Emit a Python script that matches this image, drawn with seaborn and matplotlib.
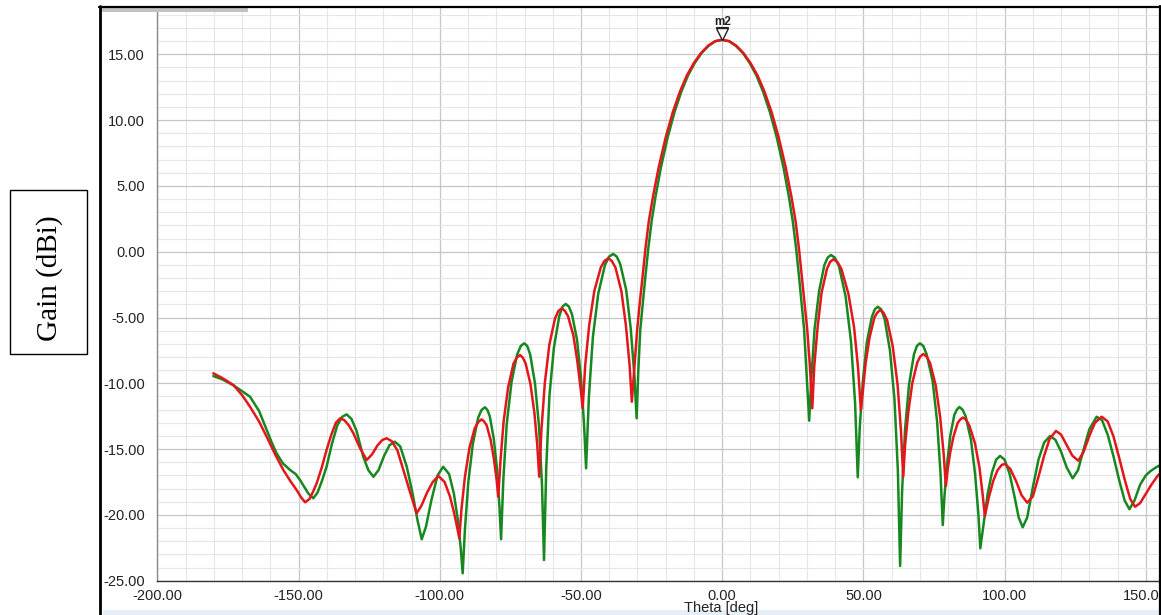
import matplotlib
matplotlib.use("Agg")
import matplotlib.pyplot as plt
import numpy as np
import pandas as pd
import seaborn as sns
from matplotlib.ticker import MultipleLocator, FuncFormatter
from matplotlib.patches import Rectangle
from matplotlib.lines import Line2D
from matplotlib.transforms import offset_copy

# ---- radiation pattern samples: (theta [deg], gain [dBi]) ----
red_pattern = [
    (-180.2, -9.24), (-177.0, -9.6), (-173.1, -10.13), (-170.0, -10.9), (-167.2, -11.78),
    (-164.0, -12.9), (-161.3, -14.06), (-158.3, -15.4), (-155.4, -16.59), (-153.0, -17.4),
    (-150.7, -18.11), (-149.0, -18.7), (-147.7, -19.04), (-146.2, -18.8), (-144.8, -18.2),
    (-143.6, -17.6), (-141.8, -16.4), (-140.1, -15.07), (-138.4, -13.9), (-136.8, -13.0),
    (-135.3, -12.66), (-133.8, -12.8), (-132.2, -13.2), (-130.6, -13.8), (-128.3, -14.9),
    (-125.9, -15.83), (-124.0, -15.4), (-122.0, -14.7), (-120.3, -14.3), (-118.8, -14.18),
    (-117.0, -14.4), (-115.0, -15.1), (-112.9, -16.59), (-110.5, -18.3), (-108.2, -19.88),
    (-106.5, -19.3), (-104.5, -18.3), (-102.5, -17.5), (-100.5, -17.04), (-98.3, -17.5),
    (-96.4, -18.6), (-95.0, -19.8), (-93.8, -21.0), (-93.1, -21.78), (-92.3, -19.5),
    (-91.1, -17.1), (-89.5, -14.9), (-87.6, -13.4), (-86.4, -12.95), (-85.2, -12.74),
    (-84.3, -12.9), (-83.4, -13.2), (-82.0, -14.3), (-80.8, -15.8), (-79.9, -17.3),
    (-79.3, -18.62), (-78.5, -15.85), (-77.4, -12.9), (-75.8, -10.3), (-73.9, -8.5),
    (-72.75, -8.05), (-71.6, -7.85), (-70.6, -8.05), (-69.6, -8.5), (-67.9, -10.05),
    (-66.5, -12.25), (-65.5, -14.65), (-64.8, -17.1), (-64.0, -13.5), (-62.8, -9.96),
    (-61.2, -7.06), (-59.2, -5.07), (-58.0, -4.5), (-56.8, -4.3), (-55.7, -4.5),
    (-54.6, -4.9), (-52.7, -6.36), (-51.3, -8.33), (-50.1, -10.46), (-49.4, -11.9),
    (-48.5, -8.6), (-47.1, -5.6), (-45.3, -3.0), (-43.0, -1.2), (-41.7, -0.7),
    (-40.3, -0.5), (-39.1, -0.7), (-37.8, -1.2), (-35.7, -3.0), (-34.1, -5.6),
    (-32.8, -8.6), (-32.0, -11.4), (-31.0, -8.5), (-30.1, -5.9), (-29.2, -3.9),
    (-28.3, -2.1), (-27.2, 0.2), (-26.0, 2.3), (-24.5, 4.2), (-22.5, 6.4),
    (-20.0, 8.7), (-17.5, 10.6), (-15.0, 12.15), (-12.5, 13.4), (-10.0, 14.35),
    (-7.5, 15.1), (-5.0, 15.65), (-2.5, 16.0), (0.0, 16.1), (2.5, 16.0),
    (5.0, 15.65), (7.5, 15.1), (10.0, 14.35), (12.5, 13.4), (15.0, 12.15),
    (17.5, 10.6), (20.0, 8.7), (22.5, 6.4), (24.5, 4.2), (26.0, 2.3),
    (27.2, 0.2), (28.3, -2.1), (29.2, -3.9), (30.1, -5.9), (31.0, -8.5),
    (31.9, -11.9), (32.6, -8.7), (33.8, -5.7), (35.2, -3.1), (37.1, -1.3),
    (38.2, -0.78), (39.3, -0.58), (40.8, -0.78), (42.2, -1.3), (44.7, -3.2),
    (46.7, -5.75), (48.1, -8.8), (49.1, -12.03), (49.8, -10.6), (50.8, -8.45),
    (52.2, -6.5), (53.9, -5.0), (54.9, -4.63), (55.9, -4.43), (57.1, -4.63),
    (58.4, -5.2), (60.4, -7.2), (62.1, -10.1), (63.3, -13.6), (64.1, -17.1),
    (64.8, -14.6), (65.9, -12.2), (67.3, -10.0), (69.1, -8.4), (70.1, -7.97),
    (71.2, -7.77), (72.4, -7.97), (73.6, -8.45), (75.6, -10.15), (77.2, -12.6),
    (78.4, -15.3), (79.2, -17.8), (79.8, -16.6), (80.7, -15.3), (81.9, -14.05),
    (83.4, -13.0), (84.3, -12.75), (85.2, -12.6), (86.3, -12.75), (87.5, -13.2),
    (89.5, -14.55), (91.1, -16.4), (92.2, -18.4), (93.0, -20.08), (94.5, -18.6),
    (96.0, -17.4), (97.5, -16.6), (99.0, -16.2), (100.1, -16.13), (102.0, -16.5),
    (104.0, -17.4), (106.0, -18.5), (108.0, -19.07), (110.0, -18.6), (112.0, -17.1),
    (114.0, -15.5), (116.0, -14.2), (118.2, -13.62), (120.0, -13.9), (122.0, -14.7),
    (124.0, -15.5), (126.1, -15.88), (128.0, -15.2), (130.0, -14.0), (132.0, -13.0),
    (134.4, -12.54), (136.5, -12.9), (138.5, -14.0), (140.5, -15.6), (142.5, -17.3),
    (144.5, -18.8), (146.2, -19.38), (148.0, -19.1), (150.0, -18.4), (152.0, -17.7),
    (154.3, -17.0), (157.0, -16.5),
]

green_pattern = [
    (-180.2, -9.45), (-177.0, -9.7), (-173.1, -10.15), (-170.0, -10.6), (-167.2, -11.02),
    (-164.0, -12.1), (-161.3, -13.55), (-159.5, -14.5), (-157.8, -15.32), (-155.5, -16.1),
    (-153.0, -16.59), (-151.0, -16.9), (-149.5, -17.35), (-146.6, -18.36), (-144.8, -18.74),
    (-143.3, -18.3), (-141.7, -17.4), (-140.1, -16.34), (-138.2, -14.6), (-136.3, -13.2),
    (-134.6, -12.55), (-133.0, -12.36), (-131.3, -12.7), (-129.5, -13.6), (-127.1, -15.58),
    (-125.3, -16.6), (-123.5, -17.1), (-121.7, -16.6), (-119.7, -15.5), (-117.8, -14.7),
    (-115.9, -14.44), (-114.0, -14.8), (-111.7, -16.34), (-109.7, -18.3), (-107.9, -20.4),
    (-106.4, -21.85), (-104.9, -20.9), (-103.0, -18.9), (-100.8, -17.0), (-98.8, -16.34),
    (-96.7, -16.9), (-95.0, -18.4), (-93.6, -20.4), (-92.6, -22.5), (-91.9, -24.44),
    (-91.1, -21.1), (-89.9, -17.5), (-88.3, -14.6), (-86.4, -12.6), (-85.2, -12.02),
    (-84.0, -11.82), (-83.15, -12.02), (-82.3, -12.5), (-80.9, -14.2), (-79.7, -16.6),
    (-78.9, -19.3), (-78.3, -21.85), (-77.5, -17.3), (-76.3, -13.1), (-74.6, -9.9),
    (-72.6, -7.8), (-71.3, -7.16), (-70.1, -6.96), (-69.05, -7.16), (-68.0, -7.8),
    (-66.3, -10.0), (-64.85, -13.3), (-63.8, -17.8), (-63.1, -23.43), (-62.3, -16.4),
    (-61.2, -11.0), (-59.6, -7.3), (-57.7, -4.9), (-56.55, -4.17), (-55.4, -3.97),
    (-54.3, -4.17), (-53.2, -4.75), (-51.4, -6.7), (-50.0, -9.6), (-48.9, -13.2),
    (-48.2, -16.46), (-47.2, -11.0), (-45.8, -6.5), (-43.9, -3.2), (-41.5, -1.0),
    (-40.05, -0.37), (-38.6, -0.17), (-37.35, -0.37), (-36.1, -0.95), (-34.0, -2.9),
    (-32.4, -5.8), (-31.1, -9.4), (-30.3, -12.66), (-29.7, -9.0), (-29.0, -5.9),
    (-28.1, -3.9), (-27.3, -2.1), (-26.2, 0.2), (-25.0, 2.3), (-23.6, 4.2),
    (-21.7, 6.4), (-19.3, 8.7), (-16.9, 10.6), (-14.5, 12.15), (-12.1, 13.4),
    (-9.7, 14.35), (-7.3, 15.1), (-4.8, 15.65), (-2.4, 16.0), (0.0, 16.1),
    (2.4, 16.0), (4.8, 15.65), (7.3, 15.1), (9.7, 14.35), (12.1, 13.4),
    (14.5, 12.15), (16.9, 10.6), (19.3, 8.7), (21.7, 6.4), (23.6, 4.2),
    (25.0, 2.3), (26.2, 0.2), (27.3, -2.1), (28.1, -3.9), (29.0, -5.9),
    (29.8, -9.0), (30.8, -12.84), (31.6, -9.5), (32.7, -5.9), (34.3, -3.0),
    (36.2, -1.0), (37.35, -0.45), (38.5, -0.25), (39.9, -0.45), (41.35, -1.1),
    (43.7, -3.4), (45.6, -6.8), (47.05, -11.45), (48.0, -17.14), (48.7, -13.4),
    (49.8, -9.85), (51.2, -6.9), (53.0, -4.95), (54.05, -4.38), (55.1, -4.18),
    (56.3, -4.38), (57.5, -5.1), (59.4, -7.5), (61.0, -11.2), (62.2, -16.6),
    (63.0, -23.88), (63.7, -18.2), (64.75, -13.5), (66.15, -10.1), (67.9, -7.8),
    (68.95, -7.16), (70.0, -6.96), (71.2, -7.16), (72.4, -7.8), (74.5, -9.8),
    (76.1, -12.9), (77.3, -16.8), (78.1, -20.77), (78.7, -18.6), (79.6, -16.2),
    (80.75, -14.0), (82.2, -12.4), (83.1, -12.0), (84.0, -11.8), (85.1, -12.0),
    (86.2, -12.5), (88.1, -14.3), (89.55, -16.9), (90.7, -19.9), (91.4, -22.54),
    (92.6, -20.6), (94.0, -18.4), (95.5, -16.8), (97.0, -15.8), (98.4, -15.52),
    (100.0, -15.8), (101.8, -16.9), (103.5, -18.6), (105.0, -20.2), (106.4, -20.94),
    (108.0, -20.2), (110.0, -17.9), (112.0, -15.8), (114.0, -14.5), (116.1, -14.0),
    (118.0, -14.3), (120.0, -15.2), (122.0, -16.4), (124.1, -17.22), (126.0, -16.6),
    (128.0, -15.0), (130.0, -13.5), (132.6, -12.54), (134.5, -12.8), (136.5, -13.9),
    (138.5, -15.5), (140.5, -17.3), (142.5, -18.9), (144.2, -19.57), (146.0, -18.9),
    (148.0, -17.7), (150.0, -17.0), (151.5, -16.7), (153.5, -16.4), (157.0, -16.0),
]

x_major_ticks = [-200, -150, -100, -50, 0, 50, 100, 150]
y_major_ticks = [-25, -20, -15, -10, -5, 0, 5, 10, 15]
marker_name = "m2"
marker_theta = 0.0
marker_gain = 16.1

df = pd.concat([
    pd.DataFrame(green_pattern, columns=["theta", "gain"]).assign(trace="pattern_b"),
    pd.DataFrame(red_pattern, columns=["theta", "gain"]).assign(trace="pattern_a"),
], ignore_index=True)

sns.set_style("white")
plt.rcParams["font.family"] = ["Liberation Sans", "DejaVu Sans"]
plt.rcParams["axes.unicode_minus"] = False

W, H = 1161, 615
fig = plt.figure(figsize=(W / 100, H / 100), dpi=100, facecolor="white")


def fx(px):
    return px / W


def fy(py):
    return 1 - py / H


# plot area in pixel geometry: x=-200 at 157.4 px, 2.824 px/deg; y=-25 at 580.7 px, top at 8 px
x_lo, x_hi = -200, 160
y_lo, y_hi = -25, 18.52
ax_left, ax_bottom_px, ax_top_px = 157.4, 580.7, 8.0
ax = fig.add_axes([fx(ax_left), fy(ax_bottom_px),
                   (x_hi - x_lo) * 2.824 / W, (ax_bottom_px - ax_top_px) / H])

sns.lineplot(data=df, x="theta", y="gain", hue="trace",
             hue_order=["pattern_b", "pattern_a"],
             palette={"pattern_b": "#17881f", "pattern_a": "#e3161b"},
             estimator=None, sort=False, legend=False, linewidth=1.8,
             solid_joinstyle="round", ax=ax)

ax.set_xlim(x_lo, x_hi)
ax.set_ylim(y_lo, y_hi)
ax.xaxis.set_major_locator(plt.FixedLocator(x_major_ticks))
ax.xaxis.set_minor_locator(MultipleLocator(10))
ax.yaxis.set_major_locator(plt.FixedLocator(y_major_ticks))
ax.yaxis.set_minor_locator(MultipleLocator(1))
fmt = FuncFormatter(lambda v, p: f"{v:.2f}")
ax.xaxis.set_major_formatter(fmt)
ax.yaxis.set_major_formatter(fmt)

ax.grid(which="major", color="#c6c6c6", linewidth=0.9)
ax.grid(which="minor", color="#e6e6e6", linewidth=0.8)
ax.set_axisbelow(True)

for side in ("top", "right"):
    ax.spines[side].set_visible(False)
ax.spines["left"].set_color("#8a8a8a")
ax.spines["left"].set_linewidth(1.0)
ax.spines["bottom"].set_color("#333333")
ax.spines["bottom"].set_linewidth(1.0)

ax.tick_params(axis="y", which="major", direction="out", length=7, width=1,
               color="#555555", labelsize=10.5, labelcolor="#222222", pad=2)
ax.tick_params(axis="y", which="minor", direction="out", length=3.5, width=0.8,
               color="#555555")
ax.tick_params(axis="x", which="major", direction="out", length=4.5, width=1,
               color="#555555", labelsize=10.5, labelcolor="#222222", pad=1.5)
ax.tick_params(axis="x", which="minor", direction="out", length=3.5, width=0.8,
               color="#555555")

ax.set_ylabel("")
ax.set_xlabel("Theta [deg]", fontsize=10.5, color="#222222")
ax.xaxis.set_label_coords((721 - ax_left) / ((x_hi - x_lo) * 2.824),
                          -(601 - ax_bottom_px) / (ax_bottom_px - ax_top_px))

# marker m2 at the beam peak
tri_tr = offset_copy(ax.transData, fig=fig, x=0, y=6, units="dots")
ax.plot([marker_theta], [marker_gain], marker="v", markersize=8.5,
        markerfacecolor="white", markeredgecolor="#222222", markeredgewidth=1.0,
        linestyle="none", transform=tri_tr, clip_on=False, zorder=5)
txt_tr = offset_copy(ax.transData, fig=fig, x=0, y=18, units="dots")
ax.text(marker_theta, marker_gain, marker_name, transform=txt_tr, ha="center",
        va="center", fontsize=8.5, fontweight="bold", color="#222222", zorder=5)
ul_tr = offset_copy(ax.transData, fig=fig, x=0, y=12.5, units="dots")
ax.plot([marker_theta - 2.2, marker_theta + 2.2], [marker_gain, marker_gain],
        color="#222222", linewidth=0.8, transform=ul_tr, clip_on=False, zorder=5)

# outer frame and decorations around the chart
fig.add_artist(Rectangle((fx(103), 0), fx(1161) - fx(103), 5 / H,
                         transform=fig.transFigure, facecolor="#e6eef8",
                         edgecolor="none", zorder=0))
fig.add_artist(Rectangle((fx(101), fy(12)), fx(248) - fx(101), 4 / H,
                         transform=fig.transFigure, facecolor="#c2c2c2",
                         edgecolor="none", zorder=3))
fig.add_artist(Line2D([fx(100), fx(100)], [0, fy(6)], transform=fig.transFigure,
                      color="black", linewidth=2.0, zorder=4))
fig.add_artist(Line2D([fx(99), 1], [fy(6.8), fy(6.8)], transform=fig.transFigure,
                      color="black", linewidth=1.6, zorder=4))
fig.add_artist(Line2D([fx(1159.5), fx(1159.5)], [0, fy(6)], transform=fig.transFigure,
                      color="black", linewidth=1.6, zorder=4))

# boxed y-axis caption
fig.add_artist(Rectangle((fx(10), fy(354)), fx(87) - fx(10), (354 - 190) / H,
                         transform=fig.transFigure, facecolor="white",
                         edgecolor="black", linewidth=1.0, zorder=3))
fig.text(fx(50), fy(278), "Gain (dBi)", rotation=90, ha="center", va="center",
         fontsize=21, family=["Liberation Serif", "DejaVu Serif"], color="black",
         zorder=4)

fig.savefig("out.png", dpi=100, facecolor="white")
